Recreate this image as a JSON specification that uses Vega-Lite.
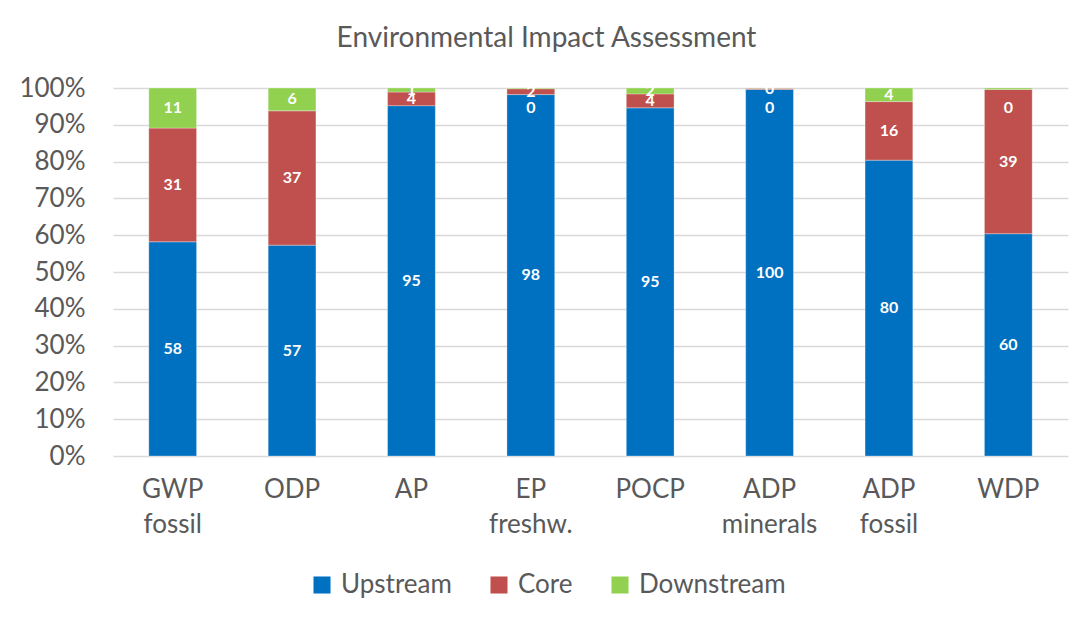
{
  "$schema": "https://vega.github.io/schema/vega-lite/v6.json",
  "width": 955,
  "height": 368,
  "autosize": {"type": "none"},
  "padding": {"left": 113, "top": 88, "right": 21, "bottom": 163},
  "background": "white",
  "title": {
    "text": "Environmental Impact Assessment",
    "font": "Lato",
    "fontSize": 28,
    "fontWeight": 400,
    "color": "#595959",
    "offset": 22,
    "dx": -44
  },
  "data": {
    "values": [
      {"category": "GWP fossil", "stage": "Upstream", "ord": 1, "value": 58.2},
      {"category": "GWP fossil", "stage": "Core", "ord": 2, "value": 30.9},
      {"category": "GWP fossil", "stage": "Downstream", "ord": 3, "value": 10.9},
      {"category": "ODP", "stage": "Upstream", "ord": 1, "value": 57.3},
      {"category": "ODP", "stage": "Core", "ord": 2, "value": 36.5},
      {"category": "ODP", "stage": "Downstream", "ord": 3, "value": 6.2},
      {"category": "AP", "stage": "Upstream", "ord": 1, "value": 95.2},
      {"category": "AP", "stage": "Core", "ord": 2, "value": 3.7},
      {"category": "AP", "stage": "Downstream", "ord": 3, "value": 1.1},
      {"category": "EP freshw.", "stage": "Upstream", "ord": 1, "value": 98.2},
      {"category": "EP freshw.", "stage": "Core", "ord": 2, "value": 1.6},
      {"category": "EP freshw.", "stage": "Downstream", "ord": 3, "value": 0.2},
      {"category": "POCP", "stage": "Upstream", "ord": 1, "value": 94.6},
      {"category": "POCP", "stage": "Core", "ord": 2, "value": 3.8},
      {"category": "POCP", "stage": "Downstream", "ord": 3, "value": 1.6},
      {"category": "ADP minerals", "stage": "Upstream", "ord": 1, "value": 99.6},
      {"category": "ADP minerals", "stage": "Core", "ord": 2, "value": 0.3},
      {"category": "ADP minerals", "stage": "Downstream", "ord": 3, "value": 0.1},
      {"category": "ADP fossil", "stage": "Upstream", "ord": 1, "value": 80.4},
      {"category": "ADP fossil", "stage": "Core", "ord": 2, "value": 15.9},
      {"category": "ADP fossil", "stage": "Downstream", "ord": 3, "value": 3.7},
      {"category": "WDP", "stage": "Upstream", "ord": 1, "value": 60.4},
      {"category": "WDP", "stage": "Core", "ord": 2, "value": 39.2},
      {"category": "WDP", "stage": "Downstream", "ord": 3, "value": 0.4}
    ]
  },
  "encoding": {
    "x": {
      "field": "category",
      "type": "nominal",
      "sort": null,
      "title": null,
      "scale": {"paddingInner": 0.6, "paddingOuter": 0.3},
      "axis": {
        "labelAngle": 0,
        "labelExpr": "split(datum.label, ' ')",
        "labelFont": "Lato",
        "labelFontSize": 26,
        "labelColor": "#595959",
        "labelLineHeight": 35,
        "labelPadding": 20,
        "ticks": false,
        "domain": false,
        "grid": false
      }
    }
  },
  "layer": [
    {
      "mark": {"type": "bar", "stroke": "white", "strokeWidth": 0.5, "strokeOpacity": 0.6},
      "encoding": {
        "y": {
          "field": "value",
          "type": "quantitative",
          "stack": "zero",
          "title": null,
          "scale": {"domain": [0, 100]},
          "axis": {
            "values": [0, 10, 20, 30, 40, 50, 60, 70, 80, 90, 100],
            "labelExpr": "datum.value + '%'",
            "labelFont": "Lato",
            "labelFontSize": 26,
            "labelColor": "#595959",
            "labelPadding": 28,
            "labelOverlap": false,
            "ticks": false,
            "domain": false,
            "gridColor": "#D9D9D9",
            "gridWidth": 1.3
          }
        },
        "color": {
          "field": "stage",
          "type": "nominal",
          "sort": ["Upstream", "Core", "Downstream"],
          "scale": {"domain": ["Upstream", "Core", "Downstream"], "range": ["#0070C0", "#C0504D", "#92D050"]},
          "legend": {
            "title": null,
            "orient": "none",
            "direction": "horizontal",
            "legendX": 196,
            "legendY": 484,
            "symbolType": "square",
            "symbolSize": 290,
            "symbolStrokeWidth": 0,
            "symbolOpacity": 1,
            "labelFont": "Lato",
            "labelFontSize": 26,
            "labelColor": "#595959",
            "labelOffset": 6,
            "columnPadding": 34
          }
        },
        "order": {"field": "ord", "type": "quantitative"}
      }
    },
    {
      "transform": [{"filter": "!(datum.stage == 'Downstream' && datum.value < 0.5)"}],
      "mark": {"type": "text", "color": "white", "font": "Lato", "fontSize": 16, "fontWeight": "bold", "baseline": "middle"},
      "encoding": {
        "y": {
          "field": "value",
          "type": "quantitative",
          "stack": "zero",
          "bandPosition": 0.5,
          "title": null,
          "axis": {
            "values": [0, 10, 20, 30, 40, 50, 60, 70, 80, 90, 100],
            "labelExpr": "datum.value + '%'",
            "labelFont": "Lato",
            "labelFontSize": 26,
            "labelColor": "#595959",
            "labelPadding": 28,
            "labelOverlap": false,
            "ticks": false,
            "domain": false,
            "gridColor": "#D9D9D9",
            "gridWidth": 1.3
          }
        },
        "text": {"field": "value", "type": "quantitative", "format": ".0f"},
        "order": {"field": "ord", "type": "quantitative"}
      }
    },
    {
      "transform": [
        {"stack": "value", "groupby": ["category"], "sort": [{"field": "ord", "order": "ascending"}], "as": ["v0", "v1"]},
        {"filter": "datum.stage == 'Downstream' && datum.value < 0.5"}
      ],
      "mark": {"type": "text", "color": "white", "font": "Lato", "fontSize": 16, "fontWeight": "bold", "baseline": "middle", "dy": 20},
      "encoding": {
        "y": {
          "field": "v1",
          "type": "quantitative",
          "title": null,
          "axis": {
            "values": [0, 10, 20, 30, 40, 50, 60, 70, 80, 90, 100],
            "labelExpr": "datum.value + '%'",
            "labelFont": "Lato",
            "labelFontSize": 26,
            "labelColor": "#595959",
            "labelPadding": 28,
            "labelOverlap": false,
            "ticks": false,
            "domain": false,
            "gridColor": "#D9D9D9",
            "gridWidth": 1.3
          }
        },
        "text": {"field": "value", "type": "quantitative", "format": ".0f"}
      }
    }
  ],
  "config": {"view": {"stroke": null}}
}
